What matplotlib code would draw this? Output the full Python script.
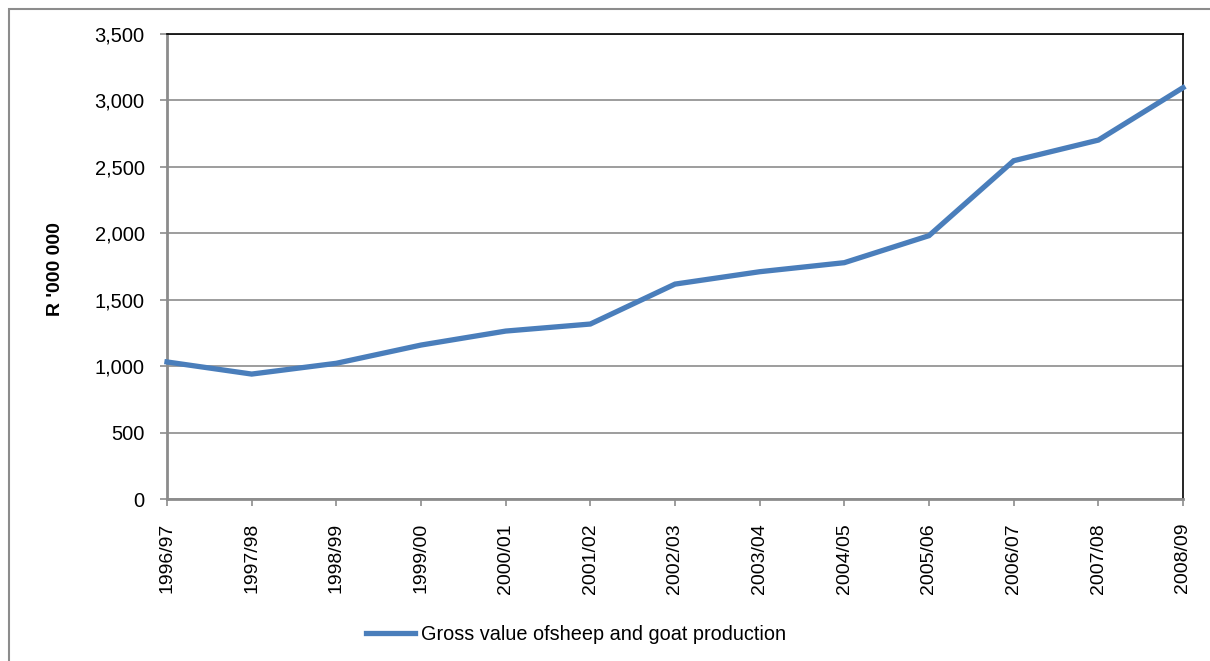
import matplotlib
matplotlib.use("Agg")
import matplotlib.pyplot as plt
from matplotlib.patches import Rectangle
from matplotlib.ticker import FuncFormatter

plt.rcParams["font.family"] = ["Liberation Sans", "DejaVu Sans"]

seasons = ["1996/97", "1997/98", "1998/99", "1999/00", "2000/01", "2001/02", "2002/03",
           "2003/04", "2004/05", "2005/06", "2006/07", "2007/08", "2008/09"]
gross_value = [1032, 941, 1022, 1159, 1264, 1317, 1617, 1710, 1778, 1981, 2544, 2699, 3093]
series_label = "Gross value ofsheep and goat production"

W, H, DPI = 1210, 661, 100
fig = plt.figure(figsize=(W / DPI, H / DPI), dpi=DPI)

# outer chart frame
fig.patches.append(Rectangle((9 / W, -0.01), 1.02, 1 - 9 / H + 0.01, transform=fig.transFigure,
                             fill=False, edgecolor="#8c8c8c", linewidth=1.5))

left, right, top, bottom = 167, 1183, 33.5, 499.3
ax = fig.add_axes([left / W, 1 - bottom / H, (right - left) / W, (bottom - top) / H])

x = list(range(len(seasons)))
ax.plot(x, gross_value, color="#4a7ebb", linewidth=3.8, solid_joinstyle="miter",
        label=series_label, clip_on=False, zorder=3)

ax.set_xlim(0, len(seasons) - 1)
ax.set_ylim(0, 3500)
ax.set_yticks(range(0, 3501, 500))
ax.yaxis.set_major_formatter(FuncFormatter(lambda v, p: f"{int(v):,}"))
ax.set_xticks(x)
ax.set_xticklabels(seasons, rotation=90)
ax.grid(axis="y", color="#8c8c8c", linewidth=1.2)
ax.set_axisbelow(True)

for side in ("left", "bottom"):
    ax.spines[side].set_color("#8c8c8c")
    ax.spines[side].set_linewidth(2)
for side in ("top", "right"):
    ax.spines[side].set_color("black")
    ax.spines[side].set_linewidth(1.2)

ax.tick_params(axis="both", direction="out", length=5, width=1.2, color="#8c8c8c")
ax.tick_params(axis="y", pad=11, labelsize=14.5)
ax.tick_params(axis="x", pad=12, labelsize=14)
fig.text(56 / W, 1 - 269 / H, "R '000 000", rotation=90, ha="center", va="center",
         fontsize=14, fontweight="bold")

ax.legend(loc="center", bbox_to_anchor=(576 / W, 1 - 634 / H), bbox_transform=fig.transFigure,
          frameon=False, fontsize=14.3, handlelength=2.5, handletextpad=0.3)

fig.savefig("out.png", dpi=DPI)
